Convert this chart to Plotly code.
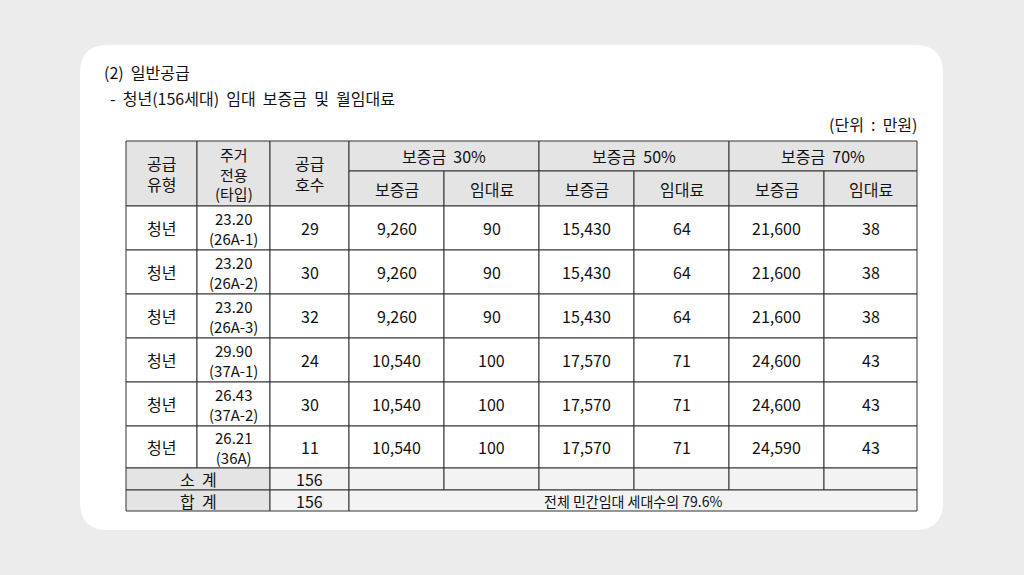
import plotly.graph_objects as go

types = ["청년"] * 6
areas = ["23.20<br>(26A-1)", "23.20<br>(26A-2)", "23.20<br>(26A-3)", "29.90<br>(37A-1)", "26.43<br>(37A-2)", "26.21<br>(36A)"]
units = [29, 30, 32, 24, 30, 11]
dep30 = ["9,260", "9,260", "9,260", "10,540", "10,540", "10,540"]
rent30 = [90, 90, 90, 100, 100, 100]
dep50 = ["15,430", "15,430", "15,430", "17,570", "17,570", "17,570"]
rent50 = [64, 64, 64, 71, 71, 71]
dep70 = ["21,600", "21,600", "21,600", "24,600", "24,600", "24,590"]
rent70 = [38, 38, 38, 43, 43, 43]
subtotal = 156
total = 156
note = "전체 민간임대 세대수의 79.6%"

X = [126, 197, 270, 349, 444, 539, 634, 729, 824, 917]
Y = [141, 171, 206, 250, 294, 338, 382, 426, 468, 490, 511]
FONT = "Noto Sans CJK KR"
HDR = "#e4e4e4"
LIGHT = "#f3f3f3"

fig = go.Figure()
shapes = []
ann = []

def cell(x0, x1, y0, y1, text=None, fill="white", size=16):
    shapes.append(dict(type="rect", x0=x0, x1=x1, y0=y0, y1=y1, fillcolor=fill,
                       line=dict(color="#333", width=1), layer="below"))
    if text is not None:
        ann.append(dict(x=(x0 + x1) / 2, y=(y0 + y1) / 2, text=str(text), showarrow=False,
                        font=dict(family=FONT, size=size, color="#111"), xanchor="center", yanchor="middle"))

shapes.append(dict(type="rect", x0=0, x1=1024, y0=0, y1=575, fillcolor="#ececec", line_width=0, layer="below"))
r = 28; cx0, cx1, cy0, cy1 = 80, 943, 45, 530
shapes.append(dict(type="path", path=f"M{cx0+r},{cy0} L{cx1-r},{cy0} Q{cx1},{cy0} {cx1},{cy0+r} L{cx1},{cy1-r} Q{cx1},{cy1} {cx1-r},{cy1} L{cx0+r},{cy1} Q{cx0},{cy1} {cx0},{cy1-r} L{cx0},{cy0+r} Q{cx0},{cy0} {cx0+r},{cy0} Z",
                   fillcolor="white", line_width=0, layer="below"))

cell(X[0], X[1], Y[0], Y[2], "공급<br>유형", HDR)
cell(X[1], X[2], Y[0], Y[2], "주거<br>전용<br>(타입)", HDR, size=15)
cell(X[2], X[3], Y[0], Y[2], "공급<br>호수", HDR)
for i, p in enumerate(["30%", "50%", "70%"]):
    a = X[3 + 2 * i]; b = X[4 + 2 * i]; c = X[5 + 2 * i]
    cell(a, c, Y[0], Y[1], "보증금  " + p, HDR)
    cell(a, b, Y[1], Y[2], "보증금", HDR)
    cell(b, c, Y[1], Y[2], "임대료", HDR)

for r_ in range(6):
    vals = [types[r_], areas[r_], units[r_], dep30[r_], rent30[r_], dep50[r_], rent50[r_], dep70[r_], rent70[r_]]
    for c_ in range(9):
        cell(X[c_], X[c_ + 1], Y[2 + r_], Y[3 + r_], vals[c_], size=15 if c_ == 1 else 16)

cell(X[0], X[2], Y[8], Y[9], "소  계", HDR)
cell(X[2], X[3], Y[8], Y[9], subtotal, LIGHT)
for c_ in range(3, 9):
    cell(X[c_], X[c_ + 1], Y[8], Y[9], None, LIGHT)
cell(X[0], X[2], Y[9], Y[10], "합  계", HDR)
cell(X[2], X[3], Y[9], Y[10], total, LIGHT)
cell(X[3], X[9], Y[9], Y[10], note, LIGHT, size=14)

ann.append(dict(x=102, y=72, text="(2)  일반공급", showarrow=False, xanchor="left", yanchor="middle",
                font=dict(family=FONT, size=16, color="#111")))
ann.append(dict(x=108, y=98, text="-  청년(156세대)  임대  보증금  및  월임대료", showarrow=False, xanchor="left", yanchor="middle",
                font=dict(family=FONT, size=16, color="#111")))
ann.append(dict(x=919, y=124, text="(단위  :  만원)", showarrow=False, xanchor="right", yanchor="middle",
                font=dict(family=FONT, size=16, color="#111")))

fig.update_layout(width=1024, height=575, margin=dict(l=0, r=0, t=0, b=0),
                  paper_bgcolor="#ececec", plot_bgcolor="#ececec",
                  xaxis=dict(range=[0, 1024], visible=False, fixedrange=True),
                  yaxis=dict(range=[575, 0], visible=False, fixedrange=True),
                  shapes=shapes, annotations=ann, showlegend=False)
fig.write_html("out.html", config={"displayModeBar": False},
               post_script="document.body.style.margin='0';document.body.style.overflow='hidden';")
